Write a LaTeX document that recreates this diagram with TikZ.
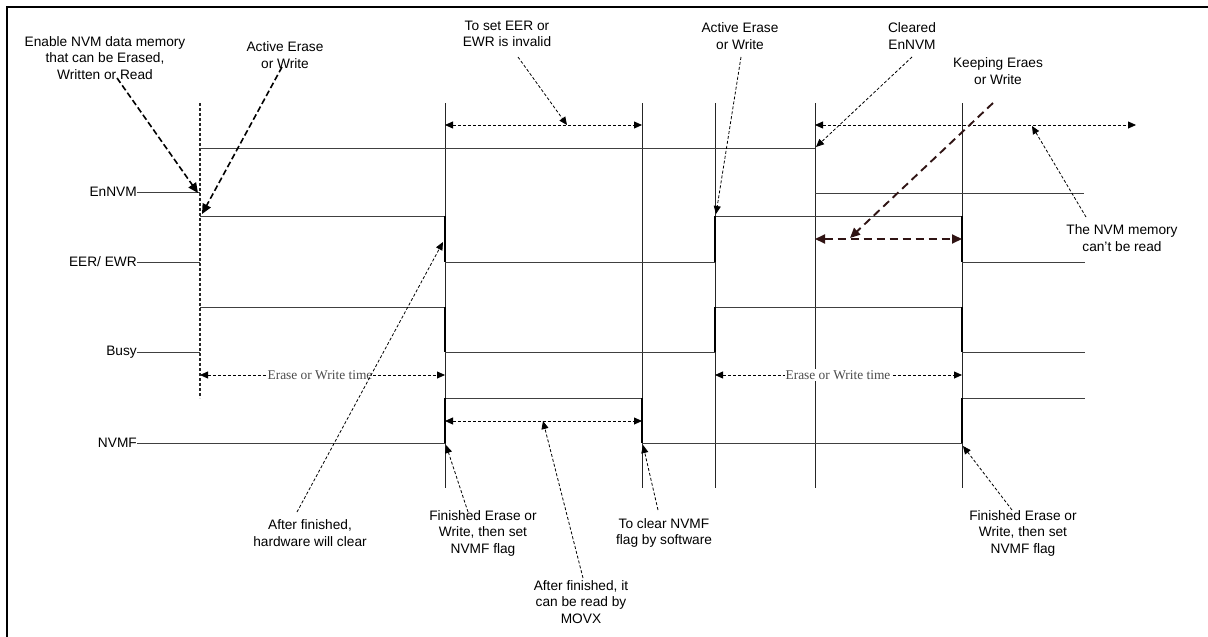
\documentclass[tikz,border=0pt]{standalone}
\usepackage{fontspec}
\setmainfont{Liberation Sans}
\newfontfamily\timesf{Liberation Serif}
\usetikzlibrary{arrows.meta}
\definecolor{keepc}{HTML}{301414}
\begin{document}
\begin{tikzpicture}[x=1pt,y=-1pt,
  guide/.style={line width=0.9pt, black!85},
  sig/.style={line width=0.9pt, black!75},
  edgeline/.style={line width=1.6pt, black},
  lbl/.style={font=\fontsize{13.7}{16.5}\selectfont, align=center, inner sep=0pt},
  sname/.style={font=\fontsize{13.7}{16.5}\selectfont, inner sep=0pt, anchor=east},
  timef/.style={font=\timesf\fontsize{13.4}{15}\selectfont, text=black!70, fill=white, inner sep=1pt},
  tipend/.style={-{Triangle[length=8pt,width=7pt]}},
  tipboth/.style={{Triangle[length=8pt,width=7pt]}-{Triangle[length=8pt,width=7pt]}},
  tipbig/.style={-{Triangle[length=10pt,width=9pt]}},
  tipbigboth/.style={{Triangle[length=10pt,width=9pt]}-{Triangle[length=10pt,width=9pt]}},
  thinarr/.style={line width=0.8pt, dash pattern=on 3pt off 2pt},
  thickarr/.style={line width=1.6pt, dash pattern=on 6pt off 3pt},
  keeparr/.style={line width=1.9pt, dash pattern=on 8pt off 5pt, keepc},
]
\useasboundingbox (0,0) rectangle (1208,637);
\draw[line width=2pt] (7,637) -- (7,7) -- (1208,7);

% guide lines
\coordinate (g1t) at (200,103); \coordinate (g1b) at (200,398);
\coordinate (g2t) at (445,103); \coordinate (g2b) at (445,488);
\coordinate (g3t) at (642,103); \coordinate (g3b) at (642,488);
\coordinate (g4t) at (715,103); \coordinate (g4b) at (715,488);
\coordinate (g5t) at (815,103); \coordinate (g5b) at (815,488);
\coordinate (g6t) at (962,103); \coordinate (g6b) at (962,488);
\draw[guide, line width=1.1pt, dash pattern=on 3pt off 2pt] (g1t) -- (g1b);
\draw[guide] (g2t) -- (g2b);
\draw[guide] (g3t) -- (g3b);
\draw[guide] (g4t) -- (g4b);
\draw[guide] (g5t) -- (g5b);
\draw[guide] (g6t) -- (g6b);

% signal names
\node[sname] (lEn) at (137,192) {EnNVM};
\node[sname] (lEER) at (137,262) {EER/ EWR};
\node[sname] (lBusy) at (137,352) {Busy};
\node[sname] (lNVMF) at (137,443) {NVMF};

% EnNVM
\draw[sig] (lEn.east) -- (200,192);
\draw[sig] (200,148) -- (815,148);
\draw[sig] (815,193) -- (1084,193);
% EER/EWR
\draw[sig] (lEER.east) -- (200,262);
\draw[sig] (200,216) -- (445,216);
\draw[sig] (445,262) -- (715,262);
\draw[sig] (715,216) -- (962,216);
\draw[sig] (962,262) -- (1085,262);
\draw[edgeline] (445,216) -- (445,262);
\draw[edgeline] (715,262) -- (715,216);
\draw[edgeline] (962,216) -- (962,262);
% Busy
\draw[sig] (lBusy.east) -- (200,352);
\draw[sig] (200,307) -- (445,307);
\draw[sig] (445,352) -- (715,352);
\draw[sig] (715,307) -- (962,307);
\draw[sig] (962,352) -- (1085,352);
\draw[edgeline] (445,307) -- (445,352);
\draw[edgeline] (715,352) -- (715,307);
\draw[edgeline] (962,307) -- (962,352);
% NVMF
\draw[sig] (lNVMF.east) -- (445,443);
\draw[sig] (445,398) -- (642,398);
\draw[sig] (642,443) -- (962,443);
\draw[sig] (962,398) -- (1085,398);
\draw[edgeline] (445,443) -- (445,398);
\draw[edgeline] (642,398) -- (642,443);
\draw[edgeline] (962,443) -- (962,398);

% span arrows
\coordinate (s1a) at (445,125); \coordinate (s1b) at (642,125);
\draw[thinarr, tipboth] (s1a) -- (s1b);
\coordinate (s2a) at (815,125); \coordinate (s2b) at (1136,125);
\draw[thinarr, tipboth] (s2a) -- (s2b);
\coordinate (s3a) at (815,239); \coordinate (s3b) at (962,239);
\draw[keeparr, tipbigboth] (s3a) -- (s3b);
\coordinate (s4a) at (445,421); \coordinate (s4b) at (642,421);
\draw[thinarr, tipboth] (s4a) -- (s4b);
\coordinate (t1a) at (200,375); \coordinate (t1b) at (445,375);
\draw[thinarr, tipboth] (t1a) -- (t1b);
\coordinate (t2a) at (715,375); \coordinate (t2b) at (962,375);
\draw[thinarr, tipboth] (t2a) -- (t2b);
\node[timef] (et1) at (320,375) {Erase or Write time};
\node[timef] (et2) at (838,375) {Erase or Write time};

% text labels
\node[lbl] (en) at (105,58) {Enable NVM data memory\\that can be Erased,\\Written or Read};
\node[lbl] (act1) at (285,55) {Active Erase\\or Write};
\node[lbl] (inval) at (507,34) {To set EER or\\EWR is invalid};
\node[lbl] (act2) at (740,36) {Active Erase\\or Write};
\node[lbl] (clr) at (912,36) {Cleared\\EnNVM};
\node[lbl] (keep) at (998,71) {Keeping Eraes\\or Write};
\node[lbl] (noread) at (1122,238) {The NVM memory\\can't be read};
\node[lbl] (hw) at (310,533) {After finished,\\hardware will clear};
\node[lbl] (fin1) at (483,533) {Finished Erase or\\Write, then set\\NVMF flag};
\node[lbl] (sw) at (664,533) {To clear NVMF\\flag by software};
\node[lbl] (movx) at (581,602) {After finished, it\\can be read by\\MOVX};
\node[lbl] (fin2) at (1023,533) {Finished Erase or\\Write, then set\\NVMF flag};

% pointer arrows
\coordinate (enS) at (117,78);   \coordinate (enE) at (198,193);
\draw[thickarr, tipbig] (enS) -- (enE);
\coordinate (a1S) at (282,67);   \coordinate (a1E) at (202,214);
\draw[thickarr, tipbig] (a1S) -- (a1E);
\coordinate (ivS) at (518,57);   \coordinate (ivE) at (567,125);
\draw[thinarr, tipend] (ivS) -- (ivE);
\coordinate (a2S) at (741,57);   \coordinate (a2E) at (716,214);
\draw[thinarr, tipend] (a2S) -- (a2E);
\coordinate (clS) at (912,57);   \coordinate (clE) at (816,147);
\draw[thinarr, tipend] (clS) -- (clE);
\coordinate (kpS) at (993,103);  \coordinate (kpE) at (850,238);
\draw[keeparr, tipbig] (kpS) -- (kpE);
\coordinate (nrS) at (1086,217); \coordinate (nrE) at (1032,126);
\draw[thinarr, tipend] (nrS) -- (nrE);
\coordinate (hwS) at (297,512);  \coordinate (hwE) at (443,242);
\draw[thinarr, tipend] (hwS) -- (hwE);
\coordinate (f1S) at (468,512);  \coordinate (f1E) at (446,445);
\draw[thinarr, tipend] (f1S) -- (f1E);
\coordinate (swS) at (658,510);  \coordinate (swE) at (643,445);
\draw[thinarr, tipend] (swS) -- (swE);
\coordinate (mvS) at (583,578);  \coordinate (mvE) at (543,421);
\draw[thinarr, tipend] (mvS) -- (mvE);
\coordinate (f2S) at (1012,510); \coordinate (f2E) at (963,446);
\draw[thinarr, tipend] (f2S) -- (f2E);
\end{tikzpicture}
\end{document}
